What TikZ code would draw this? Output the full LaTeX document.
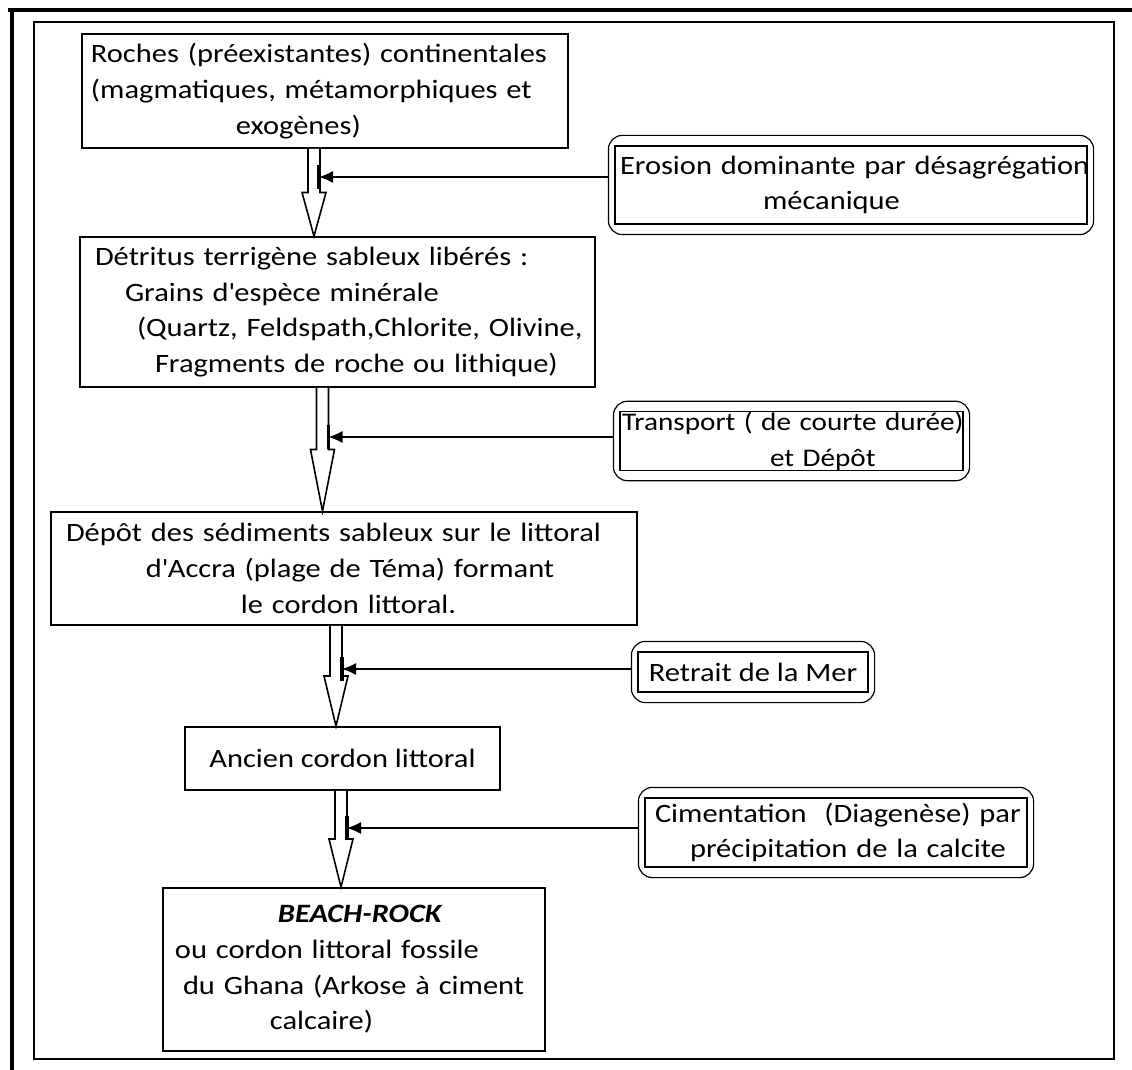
\documentclass[tikz,border=0pt]{standalone}
\usepackage{fontspec}
\setmainfont{Carlito}[FakeStretch=1.15]
\usetikzlibrary{arrows.meta,calc}

% hollow block arrow from #1 (top) to #2 (tip), head over the lower half
\newcommand{\hollowarrow}[2]{%
    \draw[blockarrow] ($(#1)+(-6,0)$) -- ($($(#1)!0.5!(#2)$)+(-6,0)$) -- ($($(#1)!0.5!(#2)$)+(-12,0)$)
        -- (#2) -- ($($(#1)!0.5!(#2)$)+(12,0)$) -- ($($(#1)!0.5!(#2)$)+(6,0)$) -- ($(#1)+(6,0)$);}
% rounded outer frame round a side box
\newcommand{\scrollframe}[1]{%
    \draw[scroll] ([shift={(-6,-10)}]#1.north west) rectangle ([shift={(6,10)}]#1.south east);}

\begin{document}
\begin{tikzpicture}[x=0.5pt,y=-0.5pt,
        font=\fontsize{13.25}{17.8}\selectfont,
        mainbox/.style={draw,line width=0.8pt,align=left,inner xsep=-4pt,inner ysep=0pt},
        sidebox/.style={draw,line width=0.6pt,align=left,inner xsep=-4pt,inner ysep=0pt},
        scroll/.style={line width=0.6pt,rounded corners=7pt},
        blockarrow/.style={line width=0.8pt,fill=white},
        feed/.style={line width=0.6pt,-{Latex[length=7pt,width=6pt]}},
        bar/.style={line width=1.6pt}]

    \useasboundingbox (0,0) rectangle (1132,1070);
    \draw[line width=2pt] (8,10) -- (1132,10);
    \draw[line width=2pt] (12,8) -- (12,1070);
    \draw[line width=0.8pt] (34,22) rectangle (1114,1059);

    % main column
    \node[mainbox,text width=251pt,minimum height=57pt] (roches) at (325,91)
        {\hspace*{8.5pt}Roches (préexistantes) continentales\\\hspace*{8.5pt}(magmatiques, métamorphiques et\\
         \hspace*{81pt}exogènes)};
    \node[mainbox,text width=265.5pt,minimum height=75pt] (detritus) at (337.5,312)
        {\hspace*{11.5pt}Détritus terrigène sableux libérés :\\\hspace*{26.5pt}Grains d\textquotesingle espèce minérale\\
         \hspace*{32.5pt}(Quartz, Feldspath,Chlorite, Olivine,\\\hspace*{41.5pt}Fragments de roche ou lithique)};
    \node[mainbox,text width=301pt,minimum height=56.5pt] (depot) at (344,568.5)
        {\hspace*{11.5pt}Dépôt des sédiments sableux sur le littoral\\\hspace*{51.5pt}d\textquotesingle Accra (plage de Téma) formant\\
         \hspace*{99pt}le cordon littoral.};
    \node[mainbox,minimum width=157.5pt,minimum height=31.5pt] (ancien) at (342.5,758.5)
        {Ancien cordon littoral};
    \node[mainbox,text width=199pt,minimum height=81.5pt] (beach) at (354,969.5)
        {\hspace*{61.5pt}\textbf{\textit{BEACH-ROCK}}\\\hspace*{10pt}ou cordon littoral fossile\\
         \hspace*{14pt}\mbox{du Ghana (Arkose à ciment}\\\hspace*{57.5pt}calcaire)};

    % side processes
    \node[sidebox,text width=244pt,minimum height=39pt] (erosion) at (851,185)
        {\hspace*{6.5pt}\mbox{Erosion dominante par désagrégation}\\\hspace*{78pt}mécanique};
    \node[sidebox,text width=179.5pt,minimum height=29pt,font=\fontsize{12.7}{17.8}\selectfont] (transport) at (791.5,441)
        {\hspace*{5pt}\mbox{Transport ( de courte durée)}\\\hspace*{79pt}et Dépôt};
    \node[sidebox,minimum width=115pt,minimum height=20pt] (retrait) at (753,672)
        {Retrait de la Mer};
    \node[sidebox,text width=199pt,minimum height=34.5pt] (ciment) at (836,832.5)
        {\hspace*{9pt}\mbox{Cimentation\ \ (Diagenèse) par}\\\hspace*{26.5pt}précipitation de la calcite};
    \scrollframe{erosion}
    \scrollframe{transport}
    \scrollframe{retrait}
    \scrollframe{ciment}

    % junctions on the right side of each shaft
    \coordinate (j1) at (319,177);
    \coordinate (j2) at (328.5,437);
    \coordinate (j3) at (342,669);
    \coordinate (j4) at (347,828);

    \hollowarrow{roches.south -| 314,0}{detritus.north -| 314,0}
    \hollowarrow{detritus.south -| 322.5,0}{depot.north -| 322.5,0}
    \hollowarrow{depot.south -| 336,0}{ancien.north -| 336,0}
    \hollowarrow{ancien.south -| 341,0}{beach.north -| 341,0}

    \draw[feed] ([xshift=-3pt]j1 -| erosion.west) -- (j1);
    \draw[feed] ([xshift=-3pt]j2 -| transport.west) -- (j2);
    \draw[feed] ([xshift=-3pt]j3 -| retrait.west) -- (j3);
    \draw[feed] ([xshift=-3pt]j4 -| ciment.west) -- (j4);
    \foreach \j in {j1,j2,j3,j4}
        \draw[bar] ([yshift=6pt]\j) -- ([yshift=-6pt]\j);
\end{tikzpicture}
\end{document}
